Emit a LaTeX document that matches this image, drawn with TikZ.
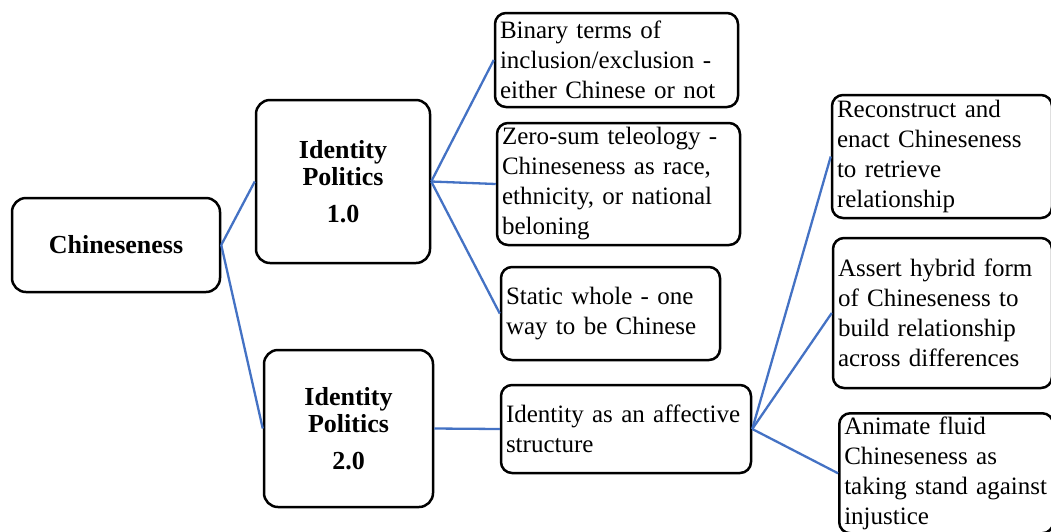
\documentclass[tikz,border=0pt]{standalone}
\usepackage{fontspec}
\setmainfont{Liberation Serif}
\usepackage{tikz}
\definecolor{C0}{HTML}{4472C4}
\tikzstyle{box} = [draw, line width=2.5pt, rounded corners=11pt, inner xsep=5pt, inner ysep=2pt, align=left, font=\fontsize{25}{30}\selectfont]
\tikzstyle{head} = [draw, line width=2.5pt, rounded corners=14pt, align=center, font=\bfseries\fontsize{26}{27}\selectfont]
\tikzstyle{link} = [draw, color=C0, line width=2.3pt]

\begin{document}
\begin{tikzpicture}[x=1pt, y=-1pt]
	\useasboundingbox (0,0) rectangle (1051,531);
	
	\node[head, minimum width=208pt, minimum height=94pt] (chin) at (116,245) {Chineseness};
	\node[head, minimum width=174pt, minimum height=163pt] (ip1) at (343,181.5) {Identity\\Politics\\[10pt]1.0};
	\node[head, minimum width=169pt, minimum height=157pt] (ip2) at (348.5,428.5) {Identity\\Politics\\[10pt]2.0};
	
	\node[box, text width=233pt, minimum height=94pt] (bin) at (616.5,60) {Binary terms of\\inclusion/exclusion -\\either Chinese or not};
	\node[box, text width=233pt, minimum height=122pt] (zero) at (618.5,184) {Zero-sum teleology -\\Chineseness as race,\\ethnicity, or national\\beloning};
	\node[box, text width=209pt, minimum height=93pt] (stat) at (610.5,313.5) {Static whole - one\\way to be Chinese};
	\node[box, text width=240pt, minimum height=88pt] (aff) at (626,429) {Identity as an affective\\structure};
	
	\node[box, text width=210pt, minimum height=123pt] (rec) at (942,156.5) {Reconstruct and\\enact Chineseness\\to retrieve\\relationship};
	\node[box, text width=209pt, minimum height=150pt] (ass) at (942.5,313) {Assert hybrid form\\of Chineseness to\\build relationship\\across differences};
	\node[box, text width=204pt, minimum height=120pt, anchor=north west] (ani) at (838,412) {Animate fluid\\Chineseness as\\taking stand against\\injustice};
	
	\draw[link] (chin.east) -- (ip1.west);
	\draw[link] (chin.east) -- (ip2.west);
	\foreach \b in {bin, zero, stat}
	{
		\draw[link] (ip1.east) -- (\b.west);
	}
	\draw[link] (ip2.east) -- (aff.west);
	\foreach \b in {rec, ass, ani}
	{
		\draw[link] (aff.east) -- (\b.west);
	}
\end{tikzpicture}
\end{document}
